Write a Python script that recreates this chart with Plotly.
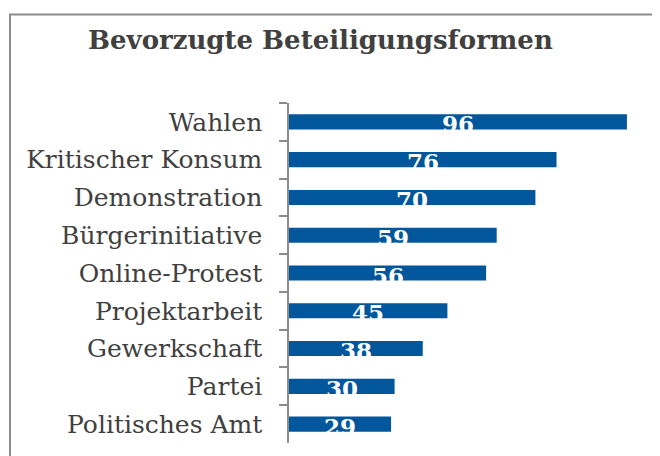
import plotly.graph_objects as go

categories = ["Wahlen", "Kritischer Konsum", "Demonstration", "Bürgerinitiative",
              "Online-Protest", "Projektarbeit", "Gewerkschaft", "Partei", "Politisches Amt"]
values = [96, 76, 70, 59, 56, 45, 38, 30, 29]
title_text = "Bevorzugte Beteiligungsformen"

OFF = 8  # page body margin in the browser
W, H = 660 - OFF, 456 - OFF
L, R, T, B = 289 - OFF, 19, 103 - OFF, 21 - OFF
pw, ph = W - L - R, H - T - B
FONT = "DejaVu Serif"


def px_x(px):
    return (px - OFF - L) / pw


def px_y(py):
    return (H - B - (py - OFF)) / ph


fig = go.Figure()
fig.add_trace(go.Bar(
    x=values, y=categories, orientation="h",
    marker=dict(color="#02569B", line=dict(width=0)),
    hoverinfo="skip",
))

for c, v in zip(categories, values):
    fig.add_annotation(x=v / 2, y=c, xref="x", yref="y", text=f"<b>{v}</b>",
                       showarrow=False, yshift=-2,
                       font=dict(family=FONT, size=23, color="white"))

fig.add_annotation(xref="paper", yref="paper", x=px_x(86), y=px_y(40),
                   xanchor="left", yanchor="middle", showarrow=False,
                   text=f"<b>{title_text}</b>",
                   font=dict(family=FONT, size=26, color="#404040"))

# chart border (left + top, extending off canvas)
fig.add_shape(type="line", xref="paper", yref="paper",
              x0=px_x(10), x1=px_x(10), y0=px_y(14.5), y1=px_y(600),
              line=dict(color="#8C8C8C", width=2))
fig.add_shape(type="line", xref="paper", yref="paper",
              x0=px_x(9), x1=px_x(800), y0=px_y(14.5), y1=px_y(14.5),
              line=dict(color="#8C8C8C", width=2))

fig.update_layout(
    width=W, height=H,
    margin=dict(l=L, r=R, t=T, b=B),
    paper_bgcolor="white", plot_bgcolor="white",
    showlegend=False, bargap=0.6,
    xaxis=dict(range=[0, 100], visible=False, showgrid=False, zeroline=False),
    yaxis=dict(
        autorange="reversed", type="category",
        showline=True, linecolor="#8C8C8C", linewidth=1.5,
        ticks="outside", tickson="boundaries", ticklen=8, tickcolor="#8C8C8C", tickwidth=1.5,
        ticklabelstandoff=20,
        tickfont=dict(family=FONT, size=25, color="#404040"),
        showgrid=False,
    ),
)

fig.write_html("out.html")
